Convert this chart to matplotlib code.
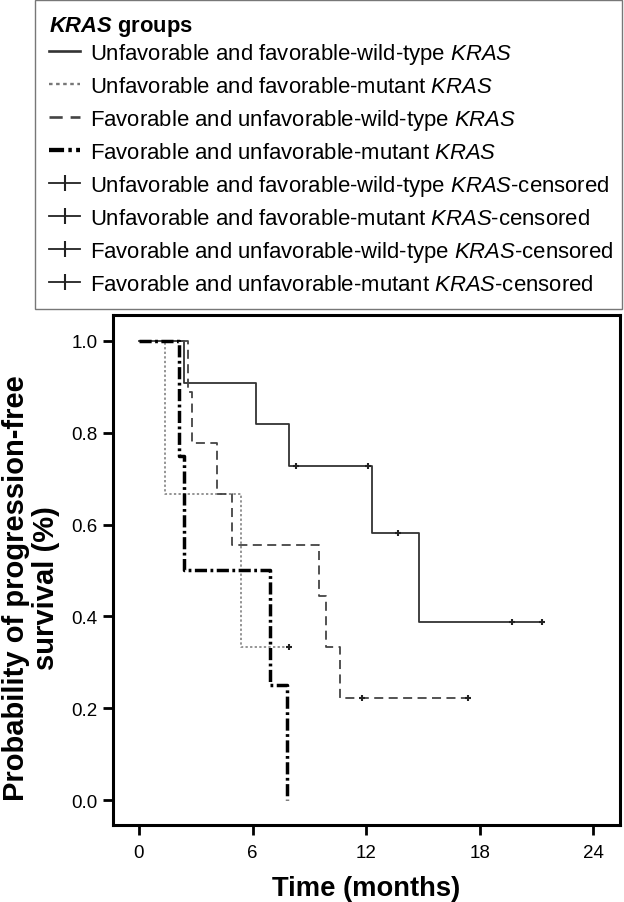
import matplotlib
matplotlib.use("Agg")
import matplotlib.pyplot as plt
import numpy as np
from matplotlib.lines import Line2D

plt.rcParams['font.family'] = ['Liberation Sans', 'DejaVu Sans']
plt.rcParams['mathtext.fontset'] = 'custom'
plt.rcParams['mathtext.rm'] = 'Liberation Sans'
plt.rcParams['mathtext.it'] = 'Liberation Sans:italic'
plt.rcParams['mathtext.bf'] = 'Liberation Sans:bold'
plt.rcParams['mathtext.bfit'] = 'Liberation Sans:bold:italic'

# ---- data ----
uf_wt_t = [0, 2.4, 6.2, 7.9, 12.3, 14.8, 21.3]
uf_wt_s = [1.0, 0.909, 0.818, 0.727, 0.582, 0.388, 0.388]
uf_wt_cens = [8.3, 12.1, 13.7, 19.7, 21.3]

uf_mut_t = [0, 1.4, 5.4, 7.9]
uf_mut_s = [1.0, 0.667, 0.333, 0.333]
uf_mut_cens = [7.9]

f_wt_t = [0, 2.6, 2.8, 4.1, 4.9, 9.5, 9.9, 10.6, 17.4]
f_wt_s = [1.0, 0.889, 0.778, 0.667, 0.556, 0.444, 0.333, 0.222, 0.222]
f_wt_cens = [11.8, 17.4]

f_mut_t = [0, 2.1, 2.4, 6.9, 7.8]
f_mut_s = [1.0, 0.75, 0.5, 0.25, 0.0]
f_mut_cens = []

group_labels = [
    r"Unfavorable and favorable-wild-type $\mathit{KRAS}$",
    r"Unfavorable and favorable-mutant $\mathit{KRAS}$",
    r"Favorable and unfavorable-wild-type $\mathit{KRAS}$",
    r"Favorable and unfavorable-mutant $\mathit{KRAS}$",
    r"Unfavorable and favorable-wild-type $\mathit{KRAS}$-censored",
    r"Unfavorable and favorable-mutant $\mathit{KRAS}$-censored",
    r"Favorable and unfavorable-wild-type $\mathit{KRAS}$-censored",
    r"Favorable and unfavorable-mutant $\mathit{KRAS}$-censored",
]
legend_title = r"$\mathbfit{KRAS}$ groups"
x_ticks = [0, 6, 12, 18, 24]
y_ticks = [0.0, 0.2, 0.4, 0.6, 0.8, 1.0]

# ---- styles ----
styles = [
    dict(color='#333333', lw=1.3, ls='-'),
    dict(color='#777777', lw=1.1, ls=(0, (1.5, 1.5))),
    dict(color='#444444', lw=1.3, ls=(0, (5, 3))),
    dict(color='#000000', lw=2.5, ls=(0, (3.5, 1, 0.8, 1))),
]

fig = plt.figure(figsize=(6.24, 9.03), dpi=100)
W, H = 624, 903
ax = fig.add_axes([113 / W, 1 - 826 / H, (620 - 113) / W, (826 - 316) / H])

series = [
    (uf_wt_t, uf_wt_s, uf_wt_cens),
    (uf_mut_t, uf_mut_s, uf_mut_cens),
    (f_wt_t, f_wt_s, f_wt_cens),
    (f_mut_t, f_mut_s, f_mut_cens),
]
for i, ((t, s, c), st) in enumerate(zip(series, styles)):
    ax.step(t, s, where='post', color=st['color'], lw=st['lw'], ls=st['ls'],
            zorder=3 + (1 if i == 3 else 0))
    if c:
        t_arr = np.array(t)
        s_arr = np.array(s)
        cy = [s_arr[np.searchsorted(t_arr, ci, side='right') - 1] for ci in c]
        ax.plot(c, cy, ls='none', marker='+', ms=5, mew=1.5, color='#222222', zorder=5)

ax.set_xlim(-1.37, 25.4)
ax.set_ylim(-0.054, 1.056)
ax.set_xticks(x_ticks)
ax.set_yticks(y_ticks)
ax.set_yticklabels([f"{v:.1f}" for v in y_ticks])
for sp in ax.spines.values():
    sp.set_linewidth(2.2)
ax.tick_params(axis='both', direction='out', length=7, width=2.0, labelsize=13.5, pad=4)
ax.tick_params(axis='x', pad=7)
ax.set_xlabel("Time (months)", fontsize=19.7, fontweight='bold', labelpad=10)
ax.set_ylabel("Probability of progression-free\nsurvival (%)", fontsize=21,
              fontweight='bold', multialignment='center', linespacing=1.1)
ax.yaxis.set_label_coords(-0.104, 0.467)

handles = [Line2D([0], [0], color=st['color'], lw=st['lw'] + 0.6, ls=st['ls']) for st in styles]
handles += [Line2D([0], [0], color='#222222', lw=1.3, marker='|', ms=11, mew=1.5)
            for _ in range(4)]

leg = fig.legend(handles, group_labels, title=legend_title, loc='upper left',
                 bbox_to_anchor=(35 / W, 1 - 302 / H, (622 - 35) / W, (302 - 1) / H),
                 mode='expand', fontsize=15.9, title_fontsize=15.8, alignment='left',
                 handlelength=1.4, handletextpad=0.45, labelspacing=0.45,
                 borderaxespad=0, fancybox=False, frameon=True, borderpad=0.65)
leg._legend_box.sep = 2
leg.get_frame().set_edgecolor('#555555')
leg.get_frame().set_linewidth(1.0)
leg.get_title().set_fontweight('bold')

fig.savefig("out.png", dpi=100)
